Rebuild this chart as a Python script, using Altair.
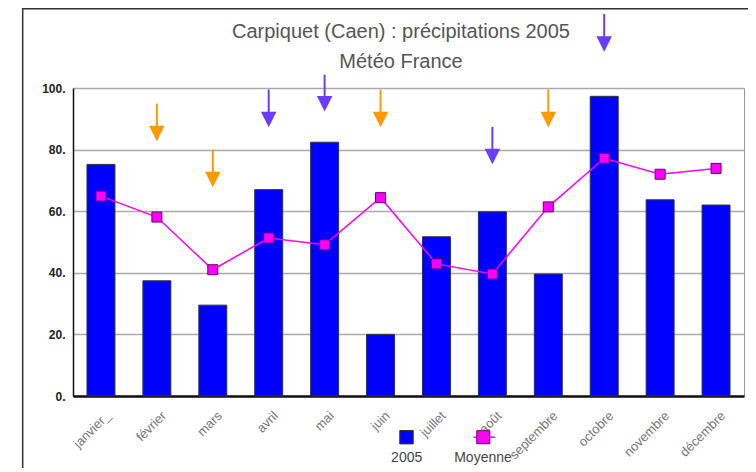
import altair as alt
import pandas as pd

# ---- data ----
months = ["janvier_", "février", "mars", "avril", "mai", "juin", "juillet",
          "août", "septembre", "octobre", "novembre", "décembre"]
precip_2005 = [75.2, 37.4, 29.5, 67.0, 82.4, 20.0, 51.7, 59.8, 39.6, 97.3, 63.7, 62.0]
moyenne = [64.9, 58.1, 41.0, 51.3, 49.1, 64.4, 42.9, 39.6, 61.4, 77.2, 72.0, 73.9]

arrow_months = ["février", "mars", "avril", "mai", "juin", "août", "septembre", "octobre"]
arrow_kind = ["orange", "orange", "violet", "violet", "orange", "violet", "orange", "violet"]
arrow_top = [94.9, 80.0, 99.5, 104.3, 99.5, 87.4, 99.5, 124.0]
arrow_tip = [82.6, 67.7, 87.2, 92.3, 87.2, 75.2, 87.2, 111.7]

y_ticks = [0, 20, 40, 60, 80, 100]
title_lines = ["Carpiquet (Caen) : précipitations 2005", "Météo France"]
legend_names = ["2005", "Moyenne"]

df = pd.DataFrame({"mois": months, "p2005": precip_2005, "moy": moyenne})
arrows = pd.DataFrame({"mois": arrow_months, "kind": arrow_kind,
                       "top": arrow_top, "tip": arrow_tip})
one = pd.DataFrame({"k": [0]})

FONT = "Liberation Sans"
BLUE = "#0000FF"
MAGENTA = "#FF00FF"

x_enc = alt.X("mois:N", sort=months, title=None,
              scale=alt.Scale(paddingInner=0.5, paddingOuter=0.25),
              axis=alt.Axis(labelAngle=-45, labelAlign="right", labelBaseline="top",
                            labelPadding=13, labelOffset=3, ticks=False,
                            labelFont=FONT, labelFontSize=13, labelColor="#777",
                            domainColor="#111", domainWidth=2.5, grid=False))
y_scale = alt.Scale(domain=[0, 100], nice=False)
y_axis = alt.Axis(values=y_ticks, labelExpr="datum.value + '.'", title=None,
                  ticks=False, labelPadding=8, labelFont=FONT, labelFontSize=12,
                  labelFontWeight="bold", labelColor="#222",
                  domainColor="#111", domainWidth=1.5,
                  grid=True, gridColor="#aaa", gridWidth=1.5)

base = alt.Chart(df)

bars = base.mark_bar(color=BLUE, stroke="#333", strokeWidth=1).encode(
    x=x_enc, y=alt.Y("p2005:Q", scale=y_scale, axis=y_axis))

line = base.mark_line(color=MAGENTA, strokeWidth=1.5).encode(
    x=alt.X("mois:N", sort=months), y=alt.Y("moy:Q"))

pts = base.mark_point(shape="square", filled=True, size=100, fill=MAGENTA,
                      stroke="#660066", strokeWidth=1, opacity=1).encode(
    x=alt.X("mois:N", sort=months), y=alt.Y("moy:Q"))

arrow_color = alt.Color("kind:N", legend=None,
                        scale=alt.Scale(domain=["orange", "violet"],
                                        range=["#FF9900", "#6A3CFF"]))
shafts = alt.Chart(arrows).mark_rule(strokeWidth=2, y2Offset=-8).encode(
    x=alt.X("mois:N", sort=months), y=alt.Y("top:Q"),
    y2="tip:Q", color=arrow_color)
heads = alt.Chart(arrows).mark_point(
    shape="M-1,-1L1,-1L0,1Z", size=240, filled=True, opacity=1, yOffset=-8).encode(
    x=alt.X("mois:N", sort=months), y=alt.Y("tip:Q"),
    color=arrow_color)

# legend (drawn manually: symbols above labels)
leg_blue = alt.Chart(one).mark_point(
    shape="square", filled=True, size=180, fill=BLUE, stroke="#333",
    strokeWidth=1, opacity=1).encode(x=alt.value(333.5), y=alt.value(349.2))
leg_line = alt.Chart(one).mark_rule(color=MAGENTA, strokeWidth=1.5).encode(
    x=alt.value(400.5), x2=alt.value(422), y=alt.value(349.2))
leg_mag = alt.Chart(one).mark_point(
    shape="square", filled=True, size=170, fill=MAGENTA, stroke="#660066",
    strokeWidth=1, opacity=1).encode(x=alt.value(410.3), y=alt.value(349.2))
leg_t1 = alt.Chart(one).mark_text(text=legend_names[0], font=FONT, fontSize=14,
                                  color="#444", baseline="middle", align="center").encode(
    x=alt.value(333.7), y=alt.value(370.2))
leg_t2 = alt.Chart(one).mark_text(text=legend_names[1], font=FONT, fontSize=14,
                                  color="#444", baseline="middle", align="center").encode(
    x=alt.value(410), y=alt.value(370.2))

# titles
tit1 = alt.Chart(one).mark_text(text=title_lines[0], font=FONT, fontSize=20,
                                color="#555", baseline="middle", align="center").encode(
    x=alt.value(328), y=alt.value(-56.3))
tit2 = alt.Chart(one).mark_text(text=title_lines[1], font=FONT, fontSize=20,
                                color="#555", baseline="middle", align="center").encode(
    x=alt.value(328), y=alt.value(-26.3))

# outer frame
frame = alt.Chart(one).mark_rect(fill=None, stroke="#333", strokeWidth=1.5).encode(
    x=alt.value(-50.3), y=alt.value(-79.2), x2=alt.value(720), y2=alt.value(420))

chart = alt.layer(frame, bars, line, pts, shafts, heads, leg_line, leg_blue,
                  leg_mag, leg_t1, leg_t2, tit1, tit2).properties(
    width=671, height=308,
    autosize=alt.AutoSizeParams(type="none"),
    padding={"left": 65, "top": 80, "right": 4, "bottom": 72},
    background="white",
).configure_view(stroke="#999", strokeWidth=1)

chart.save("out.html", embed_options={"renderer": "svg", "actions": False})
